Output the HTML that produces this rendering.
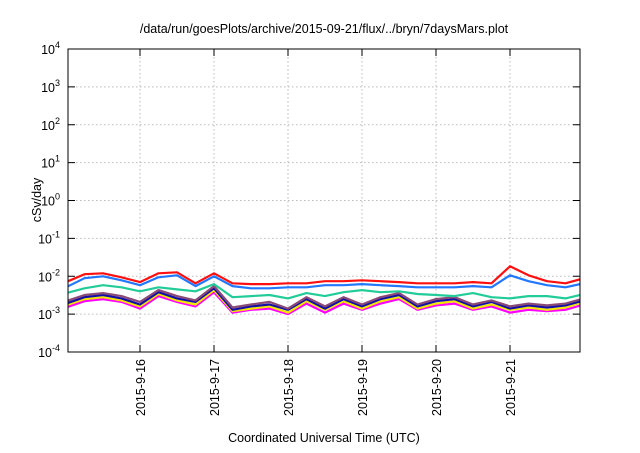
<!DOCTYPE html>
<html><head><meta charset="utf-8"><style>
body{margin:0;background:#fff;}
svg text{font-family:"Liberation Sans",Arial,sans-serif;fill:#000;}
</style></head><body>
<svg id="chart" width="640" height="448" xmlns="http://www.w3.org/2000/svg">
<text x="324" y="33" font-size="12.5" text-anchor="middle">/data/run/goesPlots/archive/2015-09-21/flux/../bryn/7daysMars.plot</text>
<text transform="translate(41,200) rotate(-90)" font-size="12.5" text-anchor="middle">cSv/day</text>
<text x="324" y="442" font-size="12.5" text-anchor="middle">Coordinated Universal Time (UTC)</text>
<g id="grid"></g><g id="axes"></g><g id="series"></g>
<rect x="68" y="49" width="512" height="303" fill="none" stroke="#000" stroke-width="1"/>
</svg>
<script>
const days=[15,15.25,15.5,15.75,16,16.25,16.5,16.75,17,17.25,17.5,17.75,18,18.25,18.5,18.75,19,19.25,19.5,19.75,20,20.25,20.5,20.75,21,21.25,21.5,21.75,22];
const xTickDays=[16,17,18,19,20,21];
const xTickLabels=["2015-9-16","2015-9-17","2015-9-18","2015-9-19","2015-9-20","2015-9-21"];
const yTickExp=[-4,-3,-2,-1,0,1,2,3,4];
const red=[0.0070,0.0113,0.0120,0.0094,0.0070,0.0120,0.0127,0.0065,0.0120,0.0065,0.0062,0.0062,0.0065,0.0065,0.0074,0.0074,0.0078,0.0074,0.0070,0.0065,0.0065,0.0065,0.0070,0.0065,0.0183,0.0106,0.0074,0.0065,0.0089];
const blue=[0.0051,0.0089,0.0100,0.0078,0.0058,0.0094,0.0106,0.0055,0.0100,0.0055,0.0048,0.0048,0.0051,0.0051,0.0058,0.0058,0.0062,0.0058,0.0055,0.0051,0.0051,0.0051,0.0055,0.0051,0.0106,0.0074,0.0058,0.0051,0.0065];
const green=[0.0036,0.0048,0.0058,0.0051,0.0040,0.0051,0.0045,0.0040,0.0062,0.0028,0.0030,0.0032,0.0026,0.0036,0.0030,0.0038,0.0043,0.0038,0.0040,0.0034,0.0032,0.0030,0.0036,0.0028,0.0026,0.0030,0.0030,0.0026,0.0034];
const purple=[0.0022,0.0032,0.0036,0.0030,0.0021,0.0043,0.0030,0.0023,0.0055,0.0015,0.0018,0.0021,0.0014,0.0028,0.0016,0.0028,0.0018,0.0028,0.0036,0.0018,0.0025,0.0028,0.0018,0.0023,0.0016,0.0019,0.0017,0.0019,0.0026];
const navy=[0.0019,0.0028,0.0032,0.0026,0.0018,0.0038,0.0026,0.0021,0.0048,0.0013,0.0016,0.0018,0.0013,0.0025,0.0014,0.0025,0.0016,0.0025,0.0032,0.0016,0.0022,0.0025,0.0016,0.0021,0.0014,0.0017,0.0015,0.0017,0.0023];
const yellow=[0.0017,0.0025,0.0028,0.0023,0.0016,0.0034,0.0023,0.0018,0.0043,0.0012,0.0014,0.0016,0.0011,0.0022,0.0013,0.0022,0.0014,0.0022,0.0028,0.0014,0.0019,0.0022,0.0014,0.0018,0.0013,0.0015,0.0013,0.0015,0.0021];
const magenta=[0.0015,0.0022,0.0025,0.0021,0.0014,0.0030,0.0021,0.0016,0.0038,0.0011,0.0013,0.0014,0.0010,0.0019,0.0011,0.0019,0.0013,0.0019,0.0025,0.0013,0.0017,0.0019,0.0013,0.0016,0.0011,0.0013,0.0012,0.0013,0.0018];

const NS="http://www.w3.org/2000/svg";
const L=68,R=580,T=49,B=352;
const xDom=[15.027,21.946];
function xs(d){return L+(d-xDom[0])/(xDom[1]-xDom[0])*(R-L);}
function ys(v){return B-(Math.log10(v)+4)/8*(B-T);}
function mk(tag,attrs,parent){const e=document.createElementNS(NS,tag);for(const k in attrs)e.setAttribute(k,attrs[k]);parent.appendChild(e);return e;}
const grid=document.getElementById('grid'),axes=document.getElementById('axes'),ser=document.getElementById('series');
const svg=document.getElementById('chart');
const defs=mk('defs',{},svg);
const cp=mk('clipPath',{id:'clip'},defs);
mk('rect',{x:L,y:T,width:R-L,height:B-T},cp);
yTickExp.forEach(e=>{
  const y=ys(Math.pow(10,e));
  if(e>-4&&e<4){
    const g=mk('line',{x1:L,x2:R,y1:y,y2:y,stroke:'#bbb','stroke-dasharray':'1.5,2.5','stroke-width':1},grid);
    
    
  }
  const t1=mk('line',{x1:L,x2:L+7,y1:y,y2:y,stroke:'#000'},axes);
  
  
  mk('line',{x1:R-7,x2:R,y1:y,y2:y,stroke:'#000'},axes);
  const tx=mk('text',{x:L-8,y:y+5,'font-size':'12.5','text-anchor':'end'},axes);
  
  
  tx.textContent='10';
  const sup=mk('tspan',{dy:-6,'font-size':'9'},tx);
  sup.textContent=String(e);
});
xTickDays.forEach((d,i)=>{
  const x=xs(d);
  const g=mk('line',{x1:x,x2:x,y1:T,y2:B,stroke:'#bbb','stroke-dasharray':'1.5,2.5','stroke-width':1},grid);
  
  
  const t=mk('line',{x1:x,x2:x,y1:B-7,y2:B,stroke:'#000'},axes);
  
  
  mk('line',{x1:x,x2:x,y1:T,y2:T+7,stroke:'#000'},axes);
  const tx=mk('text',{transform:`translate(${x+5},${359}) rotate(-90)`,'font-size':'12.5','text-anchor':'end'},axes);
  
  
  tx.textContent=xTickLabels[i];
});
const seriesList=[[magenta,'#ff00ff','magenta'],[yellow,'#f2e600','yellow'],[navy,'#1010a8','navy'],[purple,'#8a4a78','purple'],[green,'#22cc99','green'],[blue,'#2277ff','blue'],[red,'#ff1010','red']];
seriesList.forEach(([vals,col,nm])=>{
  const pts=days.map((d,i)=>xs(d).toFixed(1)+','+ys(vals[i]).toFixed(1)).join(' ');
  const p=mk('polyline',{points:pts,fill:'none',stroke:col,'stroke-width':2.2,'stroke-linejoin':'round','clip-path':'url(#clip)'},ser);
  
  
});
</script>
</body></html>
